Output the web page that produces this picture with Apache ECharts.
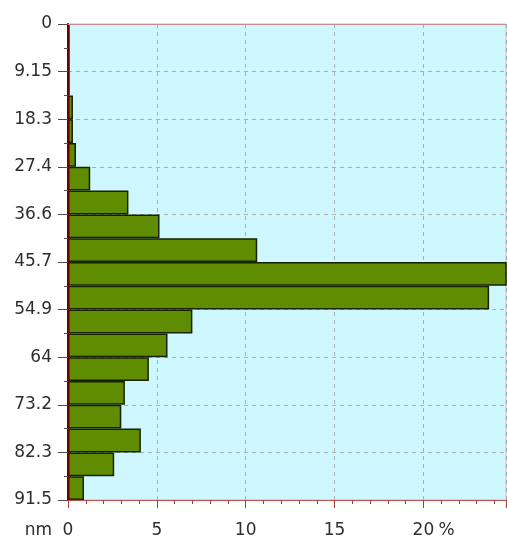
<!DOCTYPE html>
<html>
<head>
<meta charset="utf-8">
<script src="https://cdn.jsdelivr.net/npm/echarts/dist/echarts.min.js"></script>
<style>
  html, body { margin: 0; padding: 0; background: #ffffff; }
  #chart { width: 507px; height: 540px; }
</style>
</head>
<body>
<div id="chart"></div>
<script>
// Depth bins (nm), 4.575 nm wide, from the surface downwards
const depthBins = [
  '0-4.6', '4.6-9.2', '9.2-13.7', '13.7-18.3', '18.3-22.9',
  '22.9-27.4', '27.4-32.0', '32.0-36.6', '36.6-41.2', '41.2-45.7',
  '45.7-50.3', '50.3-54.9', '54.9-59.5', '59.5-64.1', '64.1-68.6',
  '68.6-73.2', '73.2-77.8', '77.8-82.3', '82.3-86.9', '86.9-91.5'
];

// Share of each bin in percent
const binPercent = [
  0.1, 0.1, 0.1, 0.28, 0.28,
  0.45, 1.25, 3.4, 5.15, 10.65,
  25.0, 23.7, 7.0, 5.6, 4.55,
  3.2, 3.0, 4.1, 2.6, 0.9
];

// Depth axis tick labels (every 9.15 nm)
const depthTickLabels = ['0', '9.15', '18.3', '27.4', '36.6', '45.7', '54.9', '64', '73.2', '82.3', '91.5'];

// Percent axis labelled ticks
const percentTicks = [0, 5, 10, 15, 20];

const FONT = 'DejaVu Sans';
const TEXT_COLOR = '#2e2e2e';
const GRID_DASH = { type: [4, 4], color: '#a6aeae', width: 1 };
const X_MAX = 24.65;
const Y_MAX = 91.5;
const LABEL_MARGIN_X = 22;

const hidden = { show: false };

const chart = echarts.init(document.getElementById('chart'), null, { renderer: 'canvas' });

chart.setOption({
  animation: false,
  grid: {
    left: 68, right: 1, top: 24, bottom: 40,
    show: true,
    backgroundColor: '#cff7ff',
    borderColor: '#d4b4b4',
    borderWidth: 1,
    outerBoundsMode: 'none'
  },
  xAxis: [
    {
      // percent scale: line, ticks and labels drawn above the bars
      type: 'value',
      position: 'bottom',
      min: 0, max: X_MAX, interval: 5,
      z: 5,
      axisLine: { show: true, onZero: false, lineStyle: { color: '#c05454', width: 1 } },
      axisTick: { show: true, length: 8, lineStyle: { color: '#b03a3a' } },
      minorTick: { show: true, splitNumber: 5, length: 4, lineStyle: { color: '#b03a3a' } },
      axisLabel: {
        margin: LABEL_MARGIN_X,
        fontSize: 17,
        fontFamily: FONT,
        color: TEXT_COLOR,
        showMaxLabel: false,
        formatter: v => (percentTicks.indexOf(v) >= 0 ? String(v) : '')
      },
      splitLine: hidden
    },
    {
      // top frame line
      type: 'value',
      position: 'top',
      min: 0, max: X_MAX,
      z: 5,
      axisLine: { show: true, onZero: false, lineStyle: { color: '#c98c8c', width: 1 } },
      axisTick: hidden,
      axisLabel: hidden,
      splitLine: hidden
    },
    {
      // vertical dashed grid, beneath the bars
      type: 'value',
      position: 'bottom',
      min: 0, max: X_MAX, interval: 5,
      z: 0,
      axisLine: hidden,
      axisTick: hidden,
      axisLabel: hidden,
      splitLine: { show: true, lineStyle: GRID_DASH }
    }
  ],
  yAxis: [
    {
      // depth scale: line, ticks and labels drawn above the bars
      type: 'value',
      inverse: true,
      min: 0, max: Y_MAX, interval: 9.15,
      z: 5,
      axisLine: { show: true, onZero: false, lineStyle: { color: '#6e0000', width: 2 } },
      axisTick: { show: true, length: 10, lineStyle: { color: '#5a4a4a' } },
      minorTick: { show: true, splitNumber: 2, length: 4, lineStyle: { color: '#5a4a4a' } },
      axisLabel: {
        margin: 16,
        fontSize: 17,
        fontFamily: FONT,
        color: TEXT_COLOR,
        formatter: v => depthTickLabels[Math.round(v / 9.15)] || ''
      },
      splitLine: hidden
    },
    {
      // one band per depth bin, for the bars
      type: 'category',
      inverse: true,
      data: depthBins,
      boundaryGap: true,
      show: false
    },
    {
      // horizontal dashed grid, beneath the bars
      type: 'value',
      inverse: true,
      min: 0, max: Y_MAX, interval: 9.15,
      z: 0,
      axisLine: hidden,
      axisTick: hidden,
      axisLabel: hidden,
      splitLine: { show: true, lineStyle: GRID_DASH }
    }
  ],
  series: [
    {
      type: 'bar',
      xAxisIndex: 0,
      yAxisIndex: 1,
      data: binPercent,
      barCategoryGap: '0%',
      clip: true,
      z: 2,
      itemStyle: {
        color: '#5f8c00',
        borderColor: '#172300',
        borderWidth: 1.5
      },
      emphasis: { disabled: true }
    }
  ]
});

// Unit captions beside the percent axis labels
const x0 = chart.convertToPixel({ xAxisIndex: 0 }, 0);
const x20 = chart.convertToPixel({ xAxisIndex: 0 }, 20);
const yBottom = chart.convertToPixel({ yAxisIndex: 0 }, Y_MAX);

chart.setOption({
  graphic: [
    {
      type: 'text',
      x: x20 + 15,
      y: yBottom + LABEL_MARGIN_X,
      silent: true,
      style: { text: '%', font: '17px "' + FONT + '"', fill: TEXT_COLOR, align: 'left', verticalAlign: 'top' }
    },
    {
      type: 'text',
      x: x0 - 16,
      y: yBottom + LABEL_MARGIN_X,
      silent: true,
      style: { text: 'nm', font: '17px "' + FONT + '"', fill: TEXT_COLOR, align: 'right', verticalAlign: 'top' }
    }
  ]
});
</script>
</body>
</html>
